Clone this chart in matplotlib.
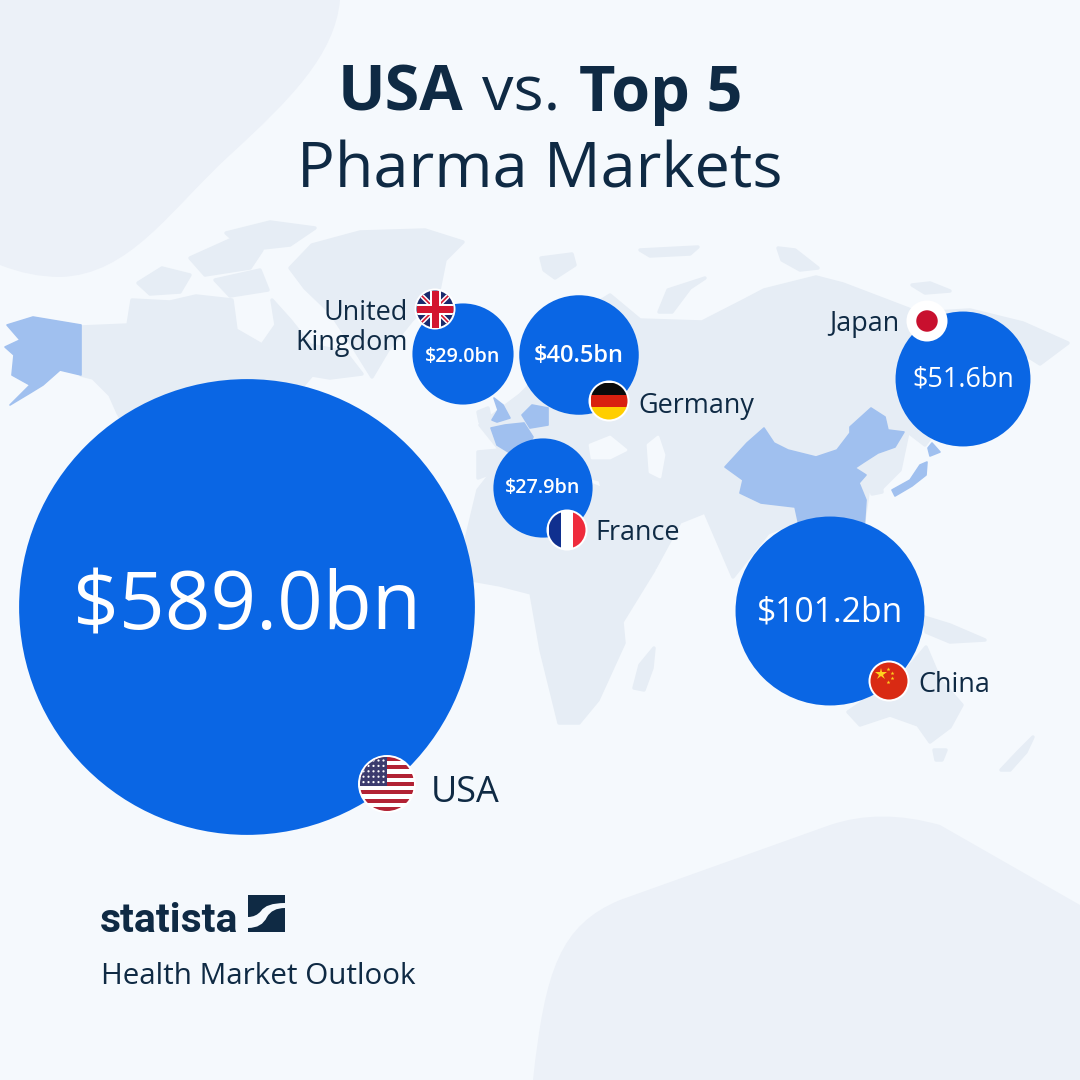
#!/usr/bin/env python3
"""USA vs. top 5 pharma markets, bubble map in the Statista style."""

import numpy as np
import matplotlib
matplotlib.use('Agg')
import matplotlib.pyplot as plt
from matplotlib.patches import Circle, Polygon, Rectangle, PathPatch
from matplotlib.path import Path

plt.rcParams['font.family'] = ['Open Sans', 'DejaVu Sans']

# chart values
countries = ['USA', 'China', 'Japan', 'Germany', 'United\nKingdom', 'France']
values = [589.0, 101.2, 51.6, 40.5, 29.0, 27.9]

# layout, in pixels of the 1080 square
bubble_x = [247, 830, 963, 579, 463, 543]
bubble_y = [607, 611, 379, 355, 354, 488]
value_y = [608, 612, 380, 356, 357, 488]
value_px = [80, 33.6, 27, 23.6, 19.8, 19.8]
value_weight = ['normal', 'normal', 'normal', 600, 600, 600]
flag_x = [387, 889, 927, 609, 435, 567]
flag_y = [784, 681, 321, 401, 309, 530]
flag_r = [27, 18.5, 18.5, 18.5, 18.5, 18.5]
label_x = [431, 918, 899, 638, 408, 595]
label_y = [793, 685, 324, 406, 328, 533]
label_px = [36, 27, 27, 27, 27, 27]
label_ha = ['left', 'left', 'right', 'left', 'right', 'left']
RADIUS_PER_ROOT = 9.39

BG = '#F5F9FD'
BLOB = '#ECF1F8'
LAND = '#E6EDF5'
HIGHLIGHT = '#A0C0EF'
BLUE = '#0A66E4'
NAVY = '#0F2A44'

# rough outlines of the background map
land_shapes = [
    # Greenland
    [(290, 268), (312, 245), (360, 232), (425, 230), (463, 242), (445, 260), (438, 295),
     (412, 320), (388, 350), (372, 377), (352, 345), (330, 312), (305, 288)],
    # Canada and the lower part of North America
    [(81, 327), (128, 325), (132, 300), (170, 302), (196, 296), (232, 300), (236, 330),
     (262, 345), (276, 325), (272, 300), (290, 320), (310, 345), (345, 352), (362, 374),
     (330, 378), (312, 375), (295, 395), (290, 470), (150, 470), (118, 413), (110, 395),
     (93, 378), (81, 375)],
    # Arctic islands
    [(138, 283), (162, 268), (190, 275), (180, 292), (150, 294)],
    [(190, 258), (230, 240), (262, 250), (250, 268), (205, 275)],
    [(226, 233), (270, 222), (315, 228), (290, 245), (245, 250)],
    [(215, 280), (260, 270), (268, 290), (230, 296)],
    # Svalbard and the Russian arctic
    [(541, 258), (572, 254), (575, 265), (555, 278), (544, 270)],
    [(640, 250), (698, 247), (690, 254), (650, 256)],
    [(778, 248), (795, 250), (818, 268), (800, 270), (782, 260)],
    [(912, 285), (930, 283), (950, 291), (925, 293)],
    [(659, 312), (668, 290), (705, 278), (690, 288), (672, 312)],
    # Eurasia
    [(480, 425), (520, 395), (555, 360), (570, 320), (610, 295), (640, 320), (702, 322),
     (745, 300), (764, 290), (816, 277), (843, 284), (885, 300), (919, 313), (970, 310),
     (1023, 323), (1068, 343), (1040, 364), (1010, 345), (985, 370), (940, 425), (925, 445),
     (908, 432), (900, 470), (880, 490), (870, 480), (864, 520), (855, 560), (830, 530),
     (800, 520), (768, 533), (733, 577), (705, 512), (680, 522), (655, 568), (634, 563),
     (612, 522), (600, 480), (560, 470), (535, 480), (520, 462), (478, 478), (478, 452),
     (500, 450)],
    # Africa
    [(500, 462), (560, 472), (600, 488), (618, 525), (634, 565), (654, 570), (622, 622),
     (624, 643), (598, 700), (579, 723), (559, 723), (541, 650), (531, 593), (500, 585),
     (472, 580), (466, 540), (478, 490)],
    # Madagascar
    [(634, 688), (640, 665), (654, 648), (652, 668), (644, 690)],
    # Indonesia and Australia
    [(924, 617), (950, 625), (985, 640), (950, 642), (926, 632)],
    [(848, 712), (880, 690), (905, 672), (926, 647), (940, 680), (962, 705), (950, 727),
     (930, 742), (918, 725), (890, 715), (860, 725)],
    [(934, 750), (946, 750), (942, 760), (936, 760)],
    [(1001, 770), (1018, 752), (1033, 737), (1026, 752), (1010, 770)],
    # Ireland and Korea
    [(478, 412), (488, 408), (490, 418), (480, 422)],
    [(868, 470), (880, 475), (882, 492), (872, 494)],
]
highlight_shapes = [
    # Alaska
    [(7, 325), (33, 317), (81, 325), (81, 375), (60, 370), (43, 385), (30, 393), (10, 405),
     (30, 385), (12, 375), (14, 355), (5, 347), (20, 340)],
    # China
    [(725, 467), (747, 443), (764, 428), (774, 443), (788, 450), (816, 457), (837, 450),
     (850, 433), (850, 427), (871, 408), (885, 417), (888, 430), (904, 432), (895, 447),
     (878, 453), (864, 462), (855, 468), (866, 475), (859, 483), (866, 500), (864, 530),
     (800, 530), (795, 507), (761, 503), (740, 493), (743, 480)],
    # Japan
    [(892, 490), (910, 480), (920, 465), (927, 462), (926, 475), (912, 486), (895, 496)],
    [(928, 448), (932, 443), (940, 452), (930, 456)],
    # UK, France, Germany
    [(494, 398), (503, 405), (510, 418), (497, 422), (492, 420), (498, 410)],
    [(491, 428), (505, 425), (524, 423), (533, 437), (525, 452), (510, 453), (497, 445)],
    [(522, 415), (532, 405), (548, 408), (548, 425), (530, 428)],
]
water_shapes = [
    # Black Sea, Caspian
    [(590, 445), (610, 437), (626, 450), (610, 458), (592, 458)],
    [(648, 445), (658, 437), (664, 455), (660, 477), (650, 472)],
]

blob_top = Path(
    [(0, 0), (340, 0), (335, 55), (290, 100), (230, 155), (170, 210), (130, 275), (60, 277),
     (30, 277), (0, 265), (0, 0)],
    [Path.MOVETO, Path.LINETO, Path.CURVE4, Path.CURVE4, Path.CURVE4, Path.CURVE4, Path.CURVE4,
     Path.CURVE4, Path.CURVE3, Path.CURVE3, Path.CLOSEPOLY],
)
blob_bottom = Path(
    [(533, 1080), (545, 970), (560, 925), (620, 900), (830, 825), (880, 808), (940, 825),
     (1080, 905), (1080, 1080), (533, 1080)],
    [Path.MOVETO, Path.CURVE4, Path.CURVE4, Path.CURVE4, Path.LINETO, Path.CURVE3, Path.CURVE3,
     Path.LINETO, Path.LINETO, Path.CLOSEPOLY],
)


def px(size):
    # font size in points from a height in pixels at dpi 100
    return size * 0.72


def flag_usa(ax, x, y, r, clip):
    stripes = 13
    h = 2 * r / stripes
    for i in range(stripes):
        c = '#B22234' if i % 2 == 0 else 'white'
        ax.add_patch(Rectangle((x - r, y - r + i * h), 2 * r, h, fc=c, ec='none', zorder=7, clip_path=clip))
    ax.add_patch(Rectangle((x - r, y - r), r, 7 * h, fc='#3C3B6E', ec='none', zorder=8, clip_path=clip))
    for i in range(5):
        for j in range(5):
            dot = Circle((x - r + 3.5 + j * 5, y - r + 3.5 + i * 5.4), 1.1, fc='white', ec='none', zorder=9)
            ax.add_patch(dot)
            dot.set_clip_path(clip)


def flag_china(ax, x, y, r, clip):
    ax.add_patch(Circle((x, y), r, fc='#D92A13', ec='none', zorder=7))
    stars = [(-8, -7, 9), (-1, -12, 3), (3, -8, 3), (3, -3, 3), (-1, 1, 3)]
    for dx, dy, size in stars:
        ax.plot([x + dx], [y + dy], marker='*', ms=size, color='#FFD21E', mew=0, zorder=8)


def flag_japan(ax, x, y, r, clip):
    ax.add_patch(Circle((x, y), r, fc='white', ec='none', zorder=7))
    ax.add_patch(Circle((x, y), r * 0.58, fc='#C8102E', ec='none', zorder=8))


def flag_germany(ax, x, y, r, clip):
    for i, c in enumerate(['#0B0B0B', '#D9200F', '#FFCE00']):
        ax.add_patch(Rectangle((x - r, y - r + i * 2 * r / 3), 2 * r, 2 * r / 3, fc=c, ec='none',
                               zorder=7, clip_path=clip))


def flag_uk(ax, x, y, r, clip):
    ax.add_patch(Circle((x, y), r, fc='#1A2A6C', ec='none', zorder=7))
    for sx in (1, -1):
        line, = ax.plot([x - r, x + r], [y - sx * r, y + sx * r], color='white', lw=3.4, zorder=8, solid_capstyle='butt')
        line.set_clip_path(clip)
        line, = ax.plot([x - r, x + r], [y - sx * r, y + sx * r], color='#D3162F', lw=1.2, zorder=9, solid_capstyle='butt')
        line.set_clip_path(clip)
    ax.add_patch(Rectangle((x - 5.5, y - r), 11, 2 * r, fc='white', ec='none', zorder=10))
    ax.add_patch(Rectangle((x - r, y - 5.5), 2 * r, 11, fc='white', ec='none', zorder=10, clip_path=clip))
    ax.add_patch(Rectangle((x - 3.5, y - r), 7, 2 * r, fc='#D3162F', ec='none', zorder=11))
    ax.add_patch(Rectangle((x - r, y - 3.5), 2 * r, 7, fc='#D3162F', ec='none', zorder=11, clip_path=clip))


def flag_france(ax, x, y, r, clip):
    for i, c in enumerate(['#10308F', 'white', '#EF2B3C']):
        ax.add_patch(Rectangle((x - r + i * 2 * r / 3, y - r), 2 * r / 3, 2 * r, fc=c, ec='none',
                               zorder=7, clip_path=clip))


flag_painters = [flag_usa, flag_china, flag_japan, flag_germany, flag_uk, flag_france]


def text_width(fig, ax, item):
    box = item.get_window_extent(fig.canvas.get_renderer())
    inv = ax.transData.inverted()
    return inv.transform((box.x1, box.y0))[0] - inv.transform((box.x0, box.y0))[0]


def draw_runs(fig, ax, runs, center_x, y, size):
    # mixed bold and regular words on one centred line
    items = [ax.text(0, y, word, fontsize=px(size), fontweight=w, color=NAVY, va='center', ha='left')
             for word, w in runs]
    widths = [text_width(fig, ax, item) for item in items]
    gap = size * 0.3
    total = sum(widths) + gap * (len(items) - 1)
    cur = center_x - total / 2
    for item, w in zip(items, widths):
        item.set_x(cur)
        cur += w + gap


def main():
    fig = plt.figure(figsize=(10.8, 10.8), dpi=100, facecolor=BG)
    ax = fig.add_axes([0, 0, 1, 1])
    ax.set_xlim(0, 1080)
    ax.set_ylim(1080, 0)
    ax.axis('off')

    ax.add_patch(PathPatch(blob_top, fc=BLOB, ec='none', zorder=1))
    ax.add_patch(PathPatch(blob_bottom, fc=BLOB, ec='none', zorder=1))
    for shape in land_shapes:
        ax.add_patch(Polygon(shape, closed=True, fc=LAND, ec=LAND, lw=2.5, joinstyle='round', zorder=2))
    for shape in water_shapes:
        ax.add_patch(Polygon(shape, closed=True, fc=BG, ec=BG, lw=2, joinstyle='round', zorder=3))
    for shape in highlight_shapes:
        ax.add_patch(Polygon(shape, closed=True, fc=HIGHLIGHT, ec=HIGHLIGHT, lw=1.2, joinstyle='round', zorder=3))

    # bubble area follows the market size
    radii = RADIUS_PER_ROOT * np.sqrt(values)
    for i, value in enumerate(values):
        ax.add_patch(Circle((bubble_x[i], bubble_y[i]), radii[i], fc=BLUE, ec='none', zorder=4))
        ax.text(bubble_x[i], value_y[i], f'${value:.1f}bn', color='white', ha='center', va='center',
                fontsize=px(value_px[i]), fontweight=value_weight[i], zorder=5)

        x, y, r = flag_x[i], flag_y[i], flag_r[i]
        ax.add_patch(Circle((x, y), r + 2, fc='white', ec='none', zorder=6))
        clip = Circle((x, y), r, transform=ax.transData)
        flag_painters[i](ax, x, y, r, clip)

        ax.text(label_x[i], label_y[i], countries[i], color=NAVY, ha=label_ha[i], va='center',
                fontsize=px(label_px[i]), linespacing=1.08, multialignment='right', zorder=12)

    # title
    draw_runs(fig, ax, [('USA', 'bold'), ('vs.', 'normal'), ('Top 5', 'bold')], 540, 94, 63)
    ax.text(540, 171, 'Pharma Markets', color=NAVY, ha='center', va='center', fontsize=px(63))

    # logo and source, the word fitted to the logo width
    logo = ax.text(100, 932, 'statista', color=NAVY, ha='left', va='baseline', fontsize=px(44),
                   fontweight='bold', family=['Roboto', 'Open Sans'], stretch='condensed')
    logo.set_fontsize(logo.get_fontsize() * 138 / text_width(fig, ax, logo))
    ax.add_patch(Rectangle((248, 895), 37, 37, fc=NAVY, ec='none', zorder=5))
    swoosh = Path(
        [(248, 928), (262, 928), (267, 917), (272, 908), (285, 908), (285, 903), (266, 903),
         (261, 911), (256, 917), (248, 917), (248, 928)],
        [Path.MOVETO, Path.CURVE3, Path.CURVE3, Path.CURVE3, Path.CURVE3, Path.LINETO, Path.CURVE3,
         Path.CURVE3, Path.CURVE3, Path.CURVE3, Path.CLOSEPOLY],
    )
    ax.add_patch(PathPatch(swoosh, fc=BG, ec='none', zorder=6))
    ax.text(101, 976, 'Health Market Outlook', color=NAVY, ha='left', va='center', fontsize=px(29.6))

    fig.savefig('out.png', dpi=100, facecolor=BG)
    plt.close(fig)


if __name__ == '__main__':
    main()
